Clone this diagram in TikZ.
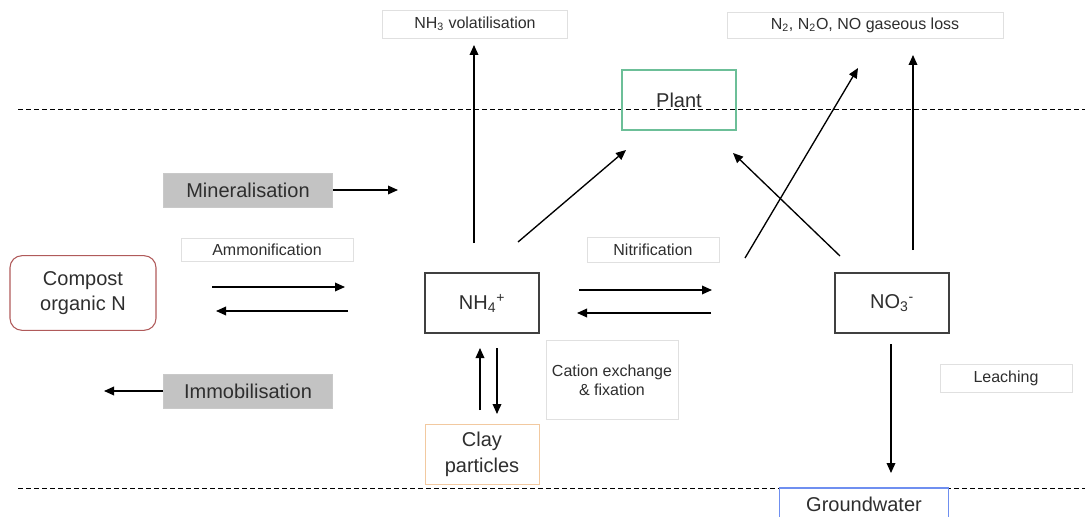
\documentclass[tikz,border=0pt]{standalone}
\usepackage{fontspec}
\setmainfont{Liberation Sans}
\usetikzlibrary{arrows.meta, positioning}
\definecolor{inkgrey}{HTML}{2E2E2E}
\definecolor{plantgreen}{HTML}{6CBF98}
\definecolor{compostred}{HTML}{B05A5A}
\definecolor{clayorange}{HTML}{F2C9A0}
\definecolor{groundblue}{HTML}{6F8FF0}
\definecolor{procgrey}{HTML}{C3C3C3}
\newcommand{\ionsub}[2]{\textsubscript{#1}\textsuperscript{#2}}
\tikzset{
    pool/.style={
        rectangle,
        draw=black!75,
        line width=0.8pt,
        minimum width=85.5pt,
        minimum height=45pt,
        align=center,
        text=inkgrey,
        font=\fontsize{15}{18}\selectfont
    },
    process/.style={
        rectangle,
        draw=procgrey!90!white,
        fill=procgrey,
        minimum width=126.75pt,
        minimum height=25.5pt,
        text=inkgrey,
        font=\fontsize{15}{18}\selectfont
    },
    flux/.style={
        rectangle,
        draw=black!12,
        line width=0.6pt,
        fill=white,
        align=center,
        text=inkgrey,
        font=\fontsize{12}{15}\selectfont
    },
    wire/.style={
        draw=black,
        line width=1pt,
        -{Triangle[length=7.5pt,width=6.5pt]}
    },
    soilline/.style={
        draw=black,
        line width=0.75pt,
        dash pattern=on 3.5pt off 2.5pt
    }
}

\begin{document}
\begin{tikzpicture}[x=0.75pt, y=-0.75pt]
\useasboundingbox (0,0) rectangle (1090,517);

% soil surface and water table
\coordinate (surf_l) at (18,110);
\coordinate (surf_r) at (1085,110);
\coordinate (table_l) at (18,488);
\coordinate (table_r) at (1085,488);
\draw[soilline] (surf_l) -- (surf_r);
\draw[soilline] (table_l) -- (table_r);

% N pools
\node[pool] (nh4) at (482,303) {NH\ionsub{4}{+}};
\node[pool] (no3) at (892,303) {NO\ionsub{3}{-}};
\node[pool, draw=plantgreen] (plant) at (679,100) {Plant};
\node[pool, draw=compostred, rounded corners=9pt, minimum width=109.5pt, minimum height=56pt] (compost) at (83,293) {Compost\\[1pt]organic N};
\node[pool, draw=clayorange, line width=0.6pt] (clay) at (482,454) {Clay\\[1.5pt]particles};
\node[pool, draw=groundblue, minimum width=126.75pt, minimum height=24pt] (ground) at (864,504) {Groundwater};

% losses
\node[flux, minimum width=138.75pt, minimum height=21pt] (nh3) at (475,24) {NH\textsubscript{3} volatilisation};
\node[flux, minimum width=207pt, minimum height=19.5pt] (gas) at (865,25) {N\textsubscript{2}, N\textsubscript{2}O, NO gaseous loss};

% processes
\node[process] (mineral) at (248,190) {Mineralisation};
\node[process] (immob) at (248,391) {Immobilisation};
\node[flux, minimum width=129pt, minimum height=17.25pt] (ammon) at (267,250) {Ammonification};
\node[flux, minimum width=99pt, minimum height=18.75pt] (nitrif) at (653,250) {Nitrification};
\node[flux, minimum width=99pt, minimum height=59.25pt] (cation) at (612,380) {Cation exchange\\[-1pt]\& fixation};
\node[flux, minimum width=99pt, minimum height=21pt] (leach) at (1006,378) {Leaching};

% free arrow ends
\coordinate (min_end) at (398,190);
\coordinate (imm_end) at (104,391);
\coordinate (am_fwd_a) at (212,287);
\coordinate (am_fwd_b) at (345,287);
\coordinate (am_back_a) at (348,311);
\coordinate (am_back_b) at (216,311);
\coordinate (ni_fwd_a) at (579,290);
\coordinate (ni_fwd_b) at (712,290);
\coordinate (ni_back_a) at (711,313);
\coordinate (ni_back_b) at (577,313);
\coordinate (vol_a) at (474,243);
\coordinate (vol_b) at (474,45);
\coordinate (up_nh4_a) at (518,242);
\coordinate (up_nh4_b) at (626,150);
\coordinate (den_a) at (745,258);
\coordinate (den_b) at (858,68);
\coordinate (up_no3_a) at (840,256);
\coordinate (up_no3_b) at (733,153);
\coordinate (gas_a) at (913,250);
\coordinate (gas_b) at (913,55);
\coordinate (lea_a) at (891,344);
\coordinate (lea_b) at (891,473);
\coordinate (fix_a) at (480,410);
\coordinate (fix_b) at (480,348);
\coordinate (rel_a) at (497,348);
\coordinate (rel_b) at (497,414);

% flows
\draw[wire] (mineral) -- (min_end);
\draw[wire] (immob) -- (imm_end);
\draw[wire] (am_fwd_a) -- (am_fwd_b);
\draw[wire] (am_back_a) -- (am_back_b);
\draw[wire] (ni_fwd_a) -- (ni_fwd_b);
\draw[wire] (ni_back_a) -- (ni_back_b);
\draw[wire] (vol_a) -- (vol_b);
\draw[wire] (up_nh4_a) -- (up_nh4_b);
\draw[wire] (den_a) -- (den_b);
\draw[wire] (up_no3_a) -- (up_no3_b);
\draw[wire] (gas_a) -- (gas_b);
\draw[wire] (lea_a) -- (lea_b);
\draw[wire] (fix_a) -- (fix_b);
\draw[wire] (rel_a) -- (rel_b);

\end{tikzpicture}
\end{document}
